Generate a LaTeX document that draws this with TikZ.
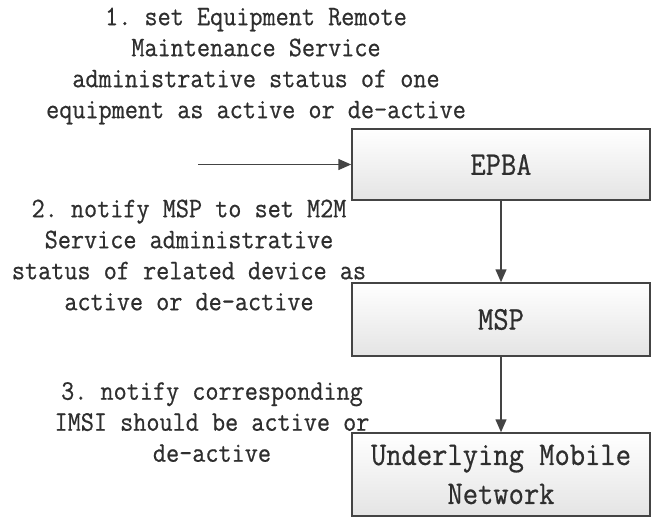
\documentclass[tikz,border=0pt]{standalone}
\usepackage{fontspec}
\setmonofont[FakeBold=0.6,FakeStretch=0.9]{Latin Modern Mono}
\usetikzlibrary{arrows.meta}
\definecolor{linegray}{HTML}{444444}
\definecolor{txtgray}{HTML}{2E2E2E}
\definecolor{boxbot}{HTML}{E4E4E4}
\tikzset{
  blk/.style={draw=linegray, line width=1.5pt, rectangle, minimum width=298pt,
    top color=white, bottom color=boxbot, inner sep=0pt, align=center,
    text=txtgray, font=\ttfamily\fontsize{33}{39}\selectfont},
  lbl/.style={align=center, inner sep=0pt, text=txtgray,
    font=\ttfamily\fontsize{28.3}{31}\selectfont},
  flow/.style={draw=linegray, line width=1.5pt, -{Triangle[length=13pt,width=11pt]}}
}
\begin{document}
\begin{tikzpicture}[x=1pt,y=-1pt]
\useasboundingbox (0,0) rectangle (653,517);
\node[blk, minimum height=71pt] (epba) at (501,164.5) {EPBA};
\node[blk, minimum height=73pt] (msp) at (501,319.5) {MSP};
\node[blk, minimum height=83pt] (umn) at (501,474.5) {Underlying Mobile\\Network};
\coordinate (in) at (198,164.5);
\draw[flow] (in) -- (epba.west);
\draw[flow] (epba.south) -- (msp.north);
\draw[flow] (msp.south) -- (umn.north);
\node[lbl] (t1) at (256,66) {1. set Equipment Remote\\Maintenance Service\\administrative status of one\\equipment as active or de-active};
\node[lbl] (t2) at (189,255) {2. notify MSP to set M2M\\Service administrative\\status of related device as\\active or de-active};
\node[lbl] (t3) at (212,422) {3. notify corresponding\\IMSI should be active or\\de-active};
\end{tikzpicture}
\end{document}
